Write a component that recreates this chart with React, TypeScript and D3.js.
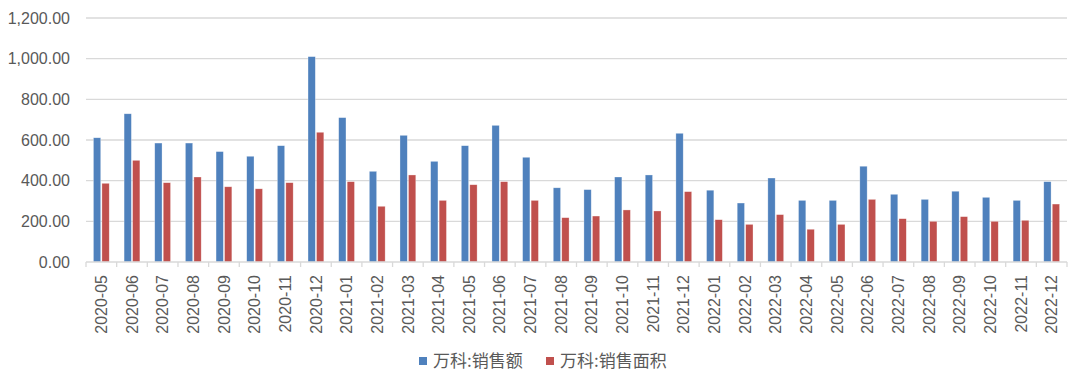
import React from "react";
import * as d3 from "d3";

const categories = [
  "2020-05","2020-06","2020-07","2020-08","2020-09","2020-10","2020-11","2020-12",
  "2021-01","2021-02","2021-03","2021-04","2021-05","2021-06","2021-07","2021-08",
  "2021-09","2021-10","2021-11","2021-12","2022-01","2022-02","2022-03","2022-04",
  "2022-05","2022-06","2022-07","2022-08","2022-09","2022-10","2022-11","2022-12",
];
const salesAmount = [
  611, 729, 585, 585, 543, 520, 572, 1010,
  710, 446, 623, 495, 572, 672, 515, 365,
  356, 418, 428, 633, 353, 290, 413, 303,
  303, 471, 333, 308, 348, 318, 303, 395,
];
const salesArea = [
  387, 500, 390, 418, 370, 360, 390, 638,
  395, 274, 428, 303, 380, 395, 303, 218,
  226, 256, 251, 346, 208, 185, 233, 161,
  185, 308, 213, 200, 223, 200, 205, 285,
];
const seriesNames = ["万科:销售额", "万科:销售面积"];
const yTicks = [0, 200, 400, 600, 800, 1000, 1200];

const COLORS = ["#4F81BD", "#C0504D"];
const W = 1080, H = 378;
const left = 86, right = 1067, top = 18, bottom = 262;
const FONT = "'Liberation Sans', Arial, sans-serif";

export default function App() {
  const x = d3.scaleBand<string>().domain(categories).range([left, right]).paddingInner(0).paddingOuter(0);
  const y = d3.scaleLinear().domain([0, 1200]).range([bottom, top]);
  const bw = x.bandwidth();
  const barW = 7.3;
  const gap = 1.2;
  const fmt = d3.format(",.2f");
  const series = [salesAmount, salesArea];

  return (
    <svg width={W} height={H} style={{ position: "absolute", left: 0, top: 0, background: "#fff" }}>
      {yTicks.map((t) => (
        <g key={t}>
          {t > 0 && (
            <line x1={left} x2={right} y1={y(t)} y2={y(t)} stroke="#D9D9D9" strokeWidth={1.3} />
          )}
          <text x={70} y={y(t)} dy="0.35em" textAnchor="end" fontSize={16} fill="#595959" fontFamily={FONT}>
            {fmt(t)}
          </text>
        </g>
      ))}
      {series.map((vals, si) =>
        vals.map((v, i) => {
          const cx = x(categories[i])! + bw / 2;
          const x0 = si === 0 ? cx - gap / 2 - barW : cx + gap / 2;
          return (
            <rect key={si + "-" + i} x={x0} y={y(v)} width={barW} height={bottom - y(v)}
              fill={COLORS[si]} stroke="#fff" strokeOpacity={0.5} strokeWidth={0.6} />
          );
        })
      )}
      <line x1={left} x2={right} y1={bottom} y2={bottom} stroke="#D9D9D9" strokeWidth={1.3} />
      {categories.map((c, i) => (
        <line key={"tk" + i} x1={x(c)!} x2={x(c)!} y1={bottom} y2={bottom + 5} stroke="#D9D9D9" strokeWidth={1.3} />
      ))}
      <line x1={right} x2={right} y1={bottom} y2={bottom + 5} stroke="#D9D9D9" strokeWidth={1.3} />
      {categories.map((c) => {
        const cx = x(c)! + bw / 2;
        return (
          <text key={"lb" + c} transform={`translate(${cx},${275}) rotate(-90)`} textAnchor="end" dy="0.35em"
            fontSize={16} fill="#595959" fontFamily={FONT}>
            {c}
          </text>
        );
      })}
      {seriesNames.map((n, i) => {
        const lx = i === 0 ? 419 : 546;
        return (
          <g key={n}>
            <rect x={lx} y={357} width={8} height={8} fill={COLORS[i]} />
            <text x={lx + 14} y={361.5} dy="0.35em" fontSize={17} fill="#595959"
              fontFamily="'Noto Sans CJK SC', 'Liberation Sans', sans-serif">
              {n}
            </text>
          </g>
        );
      })}
    </svg>
  );
}
